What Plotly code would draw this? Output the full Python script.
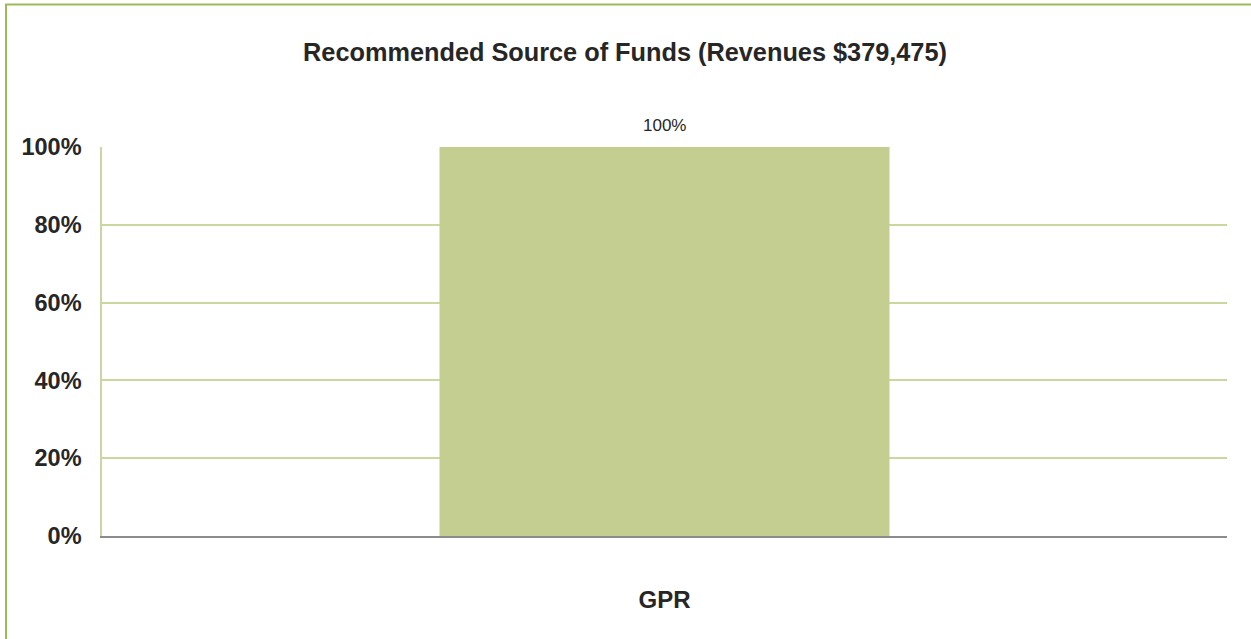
import plotly.graph_objects as go

categories = ["GPR"]
shares = [1.0]
data_labels = ["100%"]
tick_vals = [0, 0.2, 0.4, 0.6, 0.8, 1.0]
tick_text = ["0%", "20%", "40%", "60%", "80%", "100%"]
title_text = "Recommended Source of Funds (Revenues $379,475)"

FONT = "Liberation Sans, Arial, sans-serif"
W, H = 1251, 639
ML, MR, MT, MB = 102, 24, 147, 103
PW, PH = W - ML - MR, H - MT - MB

fig = go.Figure()
fig.add_trace(go.Bar(
    x=categories, y=shares, width=0.4,
    marker=dict(color="#C4CE91", line=dict(width=0)),
    hoverinfo="skip",
))
for c, v, t in zip(categories, shares, data_labels):
    fig.add_annotation(x=c, y=v, text=t, showarrow=False, yanchor="bottom",
                       yshift=10, font=dict(family=FONT, size=17, color="#262626"))

# outer frame (top and left edges visible)
fig.add_shape(type="rect", xref="paper", yref="paper",
              x0=(6 - ML) / PW, x1=(W + 20 - ML) / PW,
              y0=(MT + PH - (H + 20)) / PH, y1=(MT + PH - 4.5) / PH,
              line=dict(color="#9BBB59", width=2), layer="below")

fig.update_layout(
    width=W, height=H,
    margin=dict(l=ML, r=MR, t=MT, b=MB),
    paper_bgcolor="white", plot_bgcolor="white",
    showlegend=False,
    title=dict(text=f"<b>{title_text}</b>", x=625 / W, xanchor="center",
               y=1 - 52 / H, yanchor="middle", yref="container",
               font=dict(family=FONT, size=25.3, color="#262626")),
    xaxis=dict(range=[-0.5, 0.5], showgrid=False, showline=True,
               linecolor="#8C8C8C", linewidth=2, ticks="",
               tickfont=dict(family=FONT, size=24, color="#262626"),
               ticklabelstandoff=41, tickprefix="<b>", ticksuffix="</b>",
               zeroline=False),
    yaxis=dict(range=[0, 1.0], tickvals=tick_vals, ticktext=[f"<b>{t}</b>" for t in tick_text],
               showgrid=True, gridcolor="#C9D89F", gridwidth=1.5,
               showline=True, linecolor="#C9D89F", linewidth=1.5,
               zeroline=False, ticks="",
               tickfont=dict(family=FONT, size=23.5, color="#262626"),
               ticklabelstandoff=14),
)
fig.write_html("out.html", config={"displayModeBar": False},
               post_script="document.body.style.margin='0';")
